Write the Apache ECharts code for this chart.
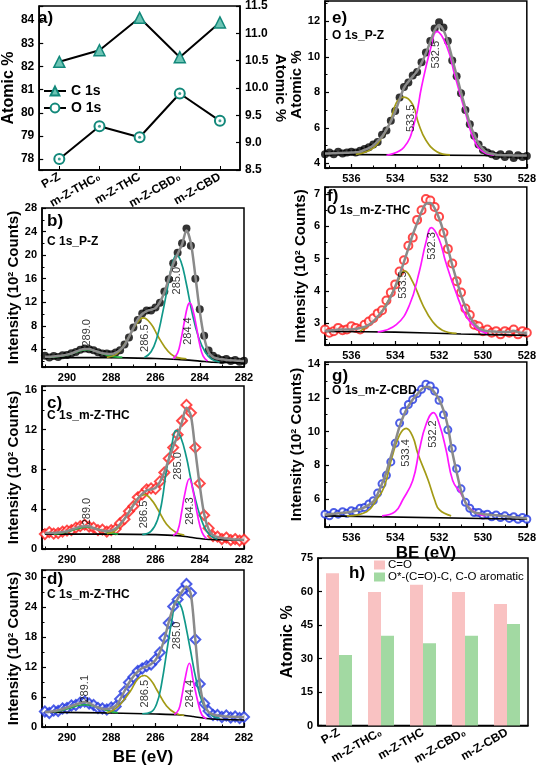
<!DOCTYPE html>
<html><head><meta charset="utf-8">
<script src="https://cdn.jsdelivr.net/npm/echarts@6/dist/echarts.min.js"></script>
<style>html,body{margin:0;padding:0;background:#fff}#c{width:539px;height:767px}</style>
</head><body><div id="c"></div>
<script>
// ---------- Panel a / h : atomic percentages ----------
const samples = ['P-Z', 'm-Z-THC\u2080', 'm-Z-THC', 'm-Z-CBD\u2080', 'm-Z-CBD'];
const c1sAtomic = [82.2, 82.7, 84.1, 82.4, 83.9];
const o1sAtomic = [8.7, 9.3, 9.1, 9.9, 9.4];
const coShare = [68.2, 59.8, 63.0, 59.8, 54.4];
const oStarShare = [31.6, 40.2, 36.8, 40.2, 45.5];

// ---------- C 1s spectra (b, c, d) ----------
const cBE = [291.0, 290.8, 290.6, 290.4, 290.2, 290.0, 289.8, 289.6, 289.4, 289.2,
  289.0, 288.8, 288.6, 288.4, 288.2, 288.0, 287.8, 287.6, 287.4, 287.2,
  287.0, 286.8, 286.6, 286.4, 286.2, 286.0, 285.8, 285.6, 285.4, 285.2,
  285.0, 284.8, 284.6, 284.4, 284.2, 284.0, 283.8, 283.6, 283.4, 283.2,
  283.0, 282.8, 282.6, 282.4, 282.2, 282.0];

const bFit = [2.75, 2.75, 2.8, 2.85, 2.95, 3.1, 3.3, 3.6, 3.9, 4.05,
  4.05, 3.8, 3.55, 3.35, 3.25, 3.2, 3.4, 3.9, 4.7, 6.1,
  7.6, 9.1, 10.0, 10.5, 10.7, 11.0, 12.0, 13.7, 16.0, 18.5,
  20.2, 21.8, 24.2, 22.0, 16.5, 10.5, 6.0, 3.5, 2.7, 2.45,
  2.3, 2.2, 2.15, 2.1, 2.05, 2.0];
const bData = [2.9, 2.6, 2.85, 2.7, 3.0, 3.05, 3.35, 3.55, 3.95, 4.15,
  4.0, 3.85, 3.5, 3.3, 3.3, 3.15, 3.45, 3.85, 4.8, 6.0,
  7.7, 9.0, 10.1, 10.6, 10.6, 11.1, 11.9, 13.8, 15.9, 18.6,
  20.4, 22.0, 24.5, 21.6, 16.0, 10.8, 6.3, 3.8, 2.9, 2.5,
  2.2, 2.35, 2.0, 2.2, 1.9, 2.05];
const bBackground = [[291, 2.6], [288, 2.6], [286, 2.45], [285, 2.3], [284, 2.0], [283.4, 1.8], [282, 1.75]];
const bPeak289 = [[290.8, 2.65], [290.4, 2.8], [290.0, 3.05], [289.6, 3.5], [289.3, 3.85], [289.05, 3.95], [288.8, 3.8], [288.5, 3.4], [288.2, 3.0], [287.9, 2.75], [287.5, 2.62]];
const bPeak2865 = [[288.2, 2.65], [287.8, 3.1], [287.5, 4.3], [287.2, 6.1], [286.9, 8.1], [286.55, 9.35], [286.2, 8.3], [285.9, 6.3], [285.6, 4.5], [285.3, 3.2], [285.0, 2.6], [284.6, 2.4]];
const bPeak285 = [[286.5, 2.6], [286.2, 3.6], [285.95, 5.8], [285.7, 9.8], [285.45, 14.6], [285.25, 18.3], [285.05, 20.0], [284.85, 18.9], [284.62, 15.4], [284.35, 10.3], [284.05, 6.0], [283.75, 3.5], [283.45, 2.3], [283.1, 1.85]];
const bPeak2844 = [[285.2, 2.4], [285.0, 3.4], [284.85, 5.6], [284.7, 8.6], [284.55, 11.3], [284.45, 11.9], [284.3, 10.5], [284.15, 7.8], [284.0, 4.8], [283.85, 2.9], [283.65, 2.0]];
const bLabels = [[289.1, 6.8, '289.0'], [286.47, 5.9, '286.5'], [285.04, 15.65, '285.0'], [284.52, 7.1, '284.4']];

const cFit = [1.6, 1.6, 1.6, 1.65, 1.7, 1.8, 1.95, 2.1, 2.25, 2.3,
  2.3, 2.1, 1.95, 1.85, 1.8, 1.85, 2.05, 2.5, 3.05, 3.7,
  4.4, 5.05, 5.55, 5.9, 6.0, 6.15, 6.75, 7.75, 9.0, 10.3,
  11.4, 12.8, 14.2, 13.4, 9.9, 6.4, 3.5, 2.0, 1.4, 1.2,
  1.1, 1.05, 1.0, 0.95, 0.95, 0.9];
const cData = [1.5, 1.7, 1.55, 1.6, 1.75, 1.85, 1.9, 2.15, 2.3, 2.45,
  2.25, 2.15, 1.9, 1.95, 1.75, 1.9, 2.0, 2.6, 3.0, 3.8,
  4.3, 5.2, 5.5, 6.0, 6.1, 6.05, 6.8, 7.7, 9.1, 10.2,
  11.5, 12.9, 14.5, 13.7, 10.2, 6.6, 3.4, 2.1, 1.3, 1.25,
  1.0, 1.15, 0.9, 1.0, 0.85, 0.95];
const cBackground = [[291, 1.5], [288, 1.5], [286, 1.45], [285, 1.35], [284.5, 1.2], [284, 1.05], [283.5, 0.95], [282, 0.88]];
const cPeak289 = [[290.6, 1.5], [290.2, 1.62], [289.8, 1.85], [289.4, 2.1], [289.1, 2.2], [288.8, 2.1], [288.4, 1.85], [288.0, 1.6], [287.7, 1.5]];
const cPeak2865 = [[288.2, 1.55], [287.85, 1.8], [287.5, 2.7], [287.1, 4.1], [286.8, 5.1], [286.5, 5.47], [286.2, 5.0], [285.9, 4.0], [285.5, 2.5], [285.1, 1.7], [284.7, 1.4]];
const cPeak285 = [[286.6, 1.45], [286.2, 1.8], [285.9, 3.0], [285.7, 4.9], [285.5, 8.0], [285.27, 10.4], [285.07, 11.94], [284.85, 11.2], [284.6, 9.2], [284.4, 7.0], [284.15, 4.6], [283.85, 2.5], [283.55, 1.4], [283.2, 1.0]];
const cPeak2843 = [[285.2, 1.35], [285.0, 1.8], [284.82, 3.7], [284.67, 5.6], [284.47, 7.07], [284.3, 5.8], [284.1, 3.4], [283.9, 1.7], [283.7, 1.05]];
const cLabels = [[289.1, 3.77, '289.0'], [286.5, 3.47, '286.5'], [285.0, 8.35, '285.0'], [284.43, 3.82, '284.3']];

const dFit = [3.0, 3.05, 3.15, 3.35, 3.6, 3.9, 4.2, 4.5, 4.8, 5.0,
  4.8, 4.3, 3.9, 3.65, 3.6, 3.8, 4.2, 5.5, 7.2, 8.8,
  10.1, 11.1, 11.8, 12.1, 12.6, 13.4, 15.0, 17.6, 21.0, 23.9,
  25.6, 27.1, 28.1, 26.5, 17.5, 8.5, 4.5, 3.0, 2.5, 2.3,
  2.2, 2.1, 2.05, 2.0, 2.0, 1.95];
const dData = [3.1, 2.8, 3.3, 3.2, 3.7, 3.8, 4.3, 4.4, 4.9, 5.1,
  4.7, 4.4, 3.8, 3.7, 3.5, 3.9, 4.1, 5.6, 7.1, 8.9,
  10.0, 11.2, 11.7, 12.2, 12.5, 13.5, 14.9, 17.8, 20.8, 24.1,
  25.5, 27.3, 28.6, 26.8, 17.5, 8.6, 4.7, 3.2, 2.4, 2.4,
  2.0, 2.3, 1.9, 2.1, 1.8, 2.0];
const dBackground = [[291, 2.95], [288, 2.8], [286, 2.6], [285, 2.45], [284.3, 2.1], [283.5, 1.6], [282, 1.4]];
const dPeak2891 = [[290.6, 3.0], [290.2, 3.35], [289.8, 3.85], [289.5, 4.3], [289.2, 4.45], [288.9, 4.3], [288.5, 3.75], [288.1, 3.15], [287.7, 2.85]];
const dPeak2865 = [[288.2, 2.85], [287.9, 3.4], [287.58, 4.6], [287.13, 7.2], [286.8, 9.6], [286.5, 10.3], [286.2, 9.3], [285.95, 7.5], [285.5, 4.2], [285.1, 2.75], [284.7, 2.3]];
const dPeak285 = [[286.6, 2.65], [286.2, 3.0], [285.95, 4.6], [285.73, 8.5], [285.45, 16.3], [285.24, 21.9], [285.07, 25.2], [284.9, 24.6], [284.76, 22.9], [284.46, 16.3], [284.15, 9.2], [283.85, 4.6], [283.47, 2.35], [283.1, 1.75]];
const dPeak2844 = [[285.15, 2.5], [284.95, 3.5], [284.82, 5.9], [284.67, 9.5], [284.47, 12.75], [284.29, 9.15], [284.06, 4.6], [283.9, 2.4], [283.7, 1.65]];
const dLabels = [[289.19, 7.65, '289.1'], [286.47, 6.67, '286.5'], [285.04, 18.3, '285.0'], [284.43, 6.67, '284.4']];

// ---------- O 1s spectra (e, f, g) ----------
const oBE = [537.2, 537.0, 536.8, 536.6, 536.4, 536.2, 536.0, 535.8, 535.6, 535.4,
  535.2, 535.0, 534.8, 534.6, 534.4, 534.2, 534.0, 533.8, 533.6, 533.4,
  533.2, 533.0, 532.8, 532.6, 532.4, 532.2, 532.0, 531.8, 531.6, 531.4,
  531.2, 531.0, 530.8, 530.6, 530.4, 530.2, 530.0, 529.8, 529.6, 529.4,
  529.2, 529.0, 528.8, 528.6, 528.4, 528.2, 528.0];

const eFit = [4.55, 4.55, 4.56, 4.57, 4.58, 4.59, 4.6, 4.62, 4.65, 4.75,
  4.85, 5.0, 5.25, 5.5, 5.9, 6.35, 6.9, 7.6, 8.25, 8.6,
  8.9, 9.2, 9.65, 10.2, 10.85, 11.5, 11.8, 11.5, 10.85, 9.9,
  8.96, 8.0, 7.1, 6.25, 5.6, 5.1, 4.8, 4.6, 4.53, 4.48,
  4.46, 4.45, 4.45, 4.44, 4.44, 4.43, 4.43];
const eData = [4.5, 4.6, 4.5, 4.65, 4.55, 4.6, 4.65, 4.6, 4.7, 4.8,
  4.9, 5.05, 5.2, 5.6, 5.85, 6.4, 6.95, 7.7, 8.3, 8.55,
  8.95, 9.15, 9.7, 10.25, 10.9, 11.6, 11.95, 11.65, 10.9, 9.8,
  8.9, 7.95, 7.0, 6.2, 5.55, 5.05, 4.75, 4.6, 4.5, 4.4,
  4.5, 4.35, 4.5, 4.3, 4.45, 4.35, 4.4];
const eBackground = [[537.2, 4.5], [528, 4.42]];
const ePeak5335 = [[535.8, 4.5], [535.2, 4.7], [534.8, 5.1], [534.25, 6.25], [533.95, 7.4], [533.6, 7.73], [533.2, 7.3], [532.94, 6.25], [532.6, 5.3], [532.1, 4.65], [531.5, 4.47]];
const ePeak5325 = [[534.4, 4.45], [533.6, 4.9], [533.1, 6.4], [532.8, 8.3], [532.4, 10.4], [532.1, 11.44], [531.65, 10.6], [531.27, 8.9], [530.8, 6.85], [530.4, 5.3], [530.0, 4.65], [529.5, 4.45]];
const eLabels = [[533.27, 6.53, '533.5'], [532.14, 10.12, '532.5']];

const fFit = [2.75, 2.77, 2.78, 2.8, 2.8, 2.8, 2.8, 2.82, 2.85, 2.88,
  2.95, 3.05, 3.2, 3.36, 3.56, 3.82, 4.13, 4.5, 4.9, 5.32,
  5.74, 6.1, 6.45, 6.7, 6.72, 6.56, 6.25, 5.84, 5.32, 4.8,
  4.33, 3.87, 3.5, 3.2, 2.99, 2.85, 2.78, 2.75, 2.74, 2.73,
  2.72, 2.72, 2.72, 2.76, 2.72, 2.7, 2.7];
const fData = [2.8, 2.7, 2.75, 2.85, 2.78, 2.8, 2.9, 2.85, 2.8, 2.95,
  3.05, 3.15, 3.3, 3.4, 3.7, 3.95, 4.2, 4.6, 4.95, 5.4,
  5.65, 6.2, 6.5, 6.85, 6.8, 6.6, 6.3, 5.8, 5.3, 4.85,
  4.3, 3.95, 3.45, 3.25, 2.95, 2.9, 2.75, 2.8, 2.7, 2.75,
  2.65, 2.75, 2.7, 2.8, 2.65, 2.75, 2.7];
const fBackground = [[537.2, 2.74], [534, 2.72], [531, 2.66], [528, 2.62]];
const fPeak5335 = [[535.6, 2.75], [534.85, 3.15], [534.4, 3.6], [533.95, 4.18], [533.57, 4.62], [533.2, 4.28], [532.74, 3.56], [532.3, 3.05], [531.85, 2.78], [531.2, 2.68]];
const fPeak5323 = [[534.8, 2.72], [533.95, 2.95], [533.35, 3.56], [532.9, 4.6], [532.6, 5.5], [532.35, 5.96], [532.0, 5.6], [531.7, 4.9], [531.24, 3.97], [530.8, 3.25], [530.3, 2.84], [529.8, 2.68]];
const fLabels = [[533.65, 4.18, '533.5'], [532.34, 5.39, '532.3']];

const gFit = [5.05, 5.1, 5.12, 5.15, 5.18, 5.2, 5.25, 5.3, 5.4, 5.5,
  5.65, 5.85, 6.3, 6.9, 7.6, 8.5, 9.4, 10.3, 11.0, 11.5,
  11.9, 12.2, 12.5, 12.65, 12.6, 12.3, 11.9, 11.27, 10.3, 8.8,
  7.6, 6.5, 5.8, 5.4, 5.2, 5.15, 5.1, 5.08, 5.05, 5.03,
  5.0, 4.99, 4.95, 4.92, 4.9, 4.87, 4.85];
const gData = [5.1, 5.0, 5.2, 5.1, 5.25, 5.15, 5.3, 5.25, 5.45, 5.5,
  5.7, 5.9, 6.35, 6.9, 7.4, 8.2, 9.3, 10.5, 11.2, 11.6,
  11.9, 12.25, 12.5, 12.8, 12.7, 12.4, 11.85, 11.0, 10.1, 9.0,
  7.8, 6.6, 5.8, 5.45, 5.2, 5.2, 5.05, 5.1, 4.95, 5.05,
  4.9, 5.0, 4.85, 4.95, 4.8, 4.9, 4.8];
const gBackground = [[537.2, 5.0], [528, 4.8]];
const gPeak5334 = [[536.2, 5.0], [535.3, 5.25], [534.86, 5.94], [534.5, 6.73], [534.14, 8.5], [533.8, 9.8], [533.5, 10.19], [533.2, 9.7], [532.97, 8.7], [532.5, 7.13], [532.2, 5.94], [531.98, 5.35], [531.45, 5.0]];
const gPeak5322 = [[534.6, 5.0], [534.0, 5.25], [533.66, 5.94], [533.2, 7.1], [532.9, 8.9], [532.6, 10.4], [532.26, 11.12], [531.98, 10.4], [531.68, 8.9], [531.38, 7.1], [531.0, 6.3], [530.7, 5.6], [530.3, 5.15], [529.9, 5.0]];
const gLabels = [[533.5, 8.73, '533.4'], [532.26, 9.85, '532.2']];

// ---------- build ----------
const FONT = '"Liberation Sans", Arial, sans-serif';
const zip = (xs, ys) => xs.map((x, i) => [x, ys[i]]);
const tickFmt = (iv, dec) => v => { const r = v / iv; return Math.abs(r - Math.round(r)) < 1e-6 ? v.toFixed(dec) : ''; };

function vAxis(o) {
  return {
    type: 'value', gridIndex: o.grid, min: o.min, max: o.max, inverse: !!o.inverse,
    minInterval: o.iv, maxInterval: o.iv, position: o.position,
    axisLine: { show: true, onZero: false, lineStyle: { color: '#000', width: 1.5 } },
    axisTick: { show: true, inside: true, length: 4, lineStyle: { color: '#000', width: 1.2 } },
    minorTick: { show: o.minor !== false, splitNumber: 2, length: 2.5, lineStyle: { color: '#000', width: 1 } },
    splitLine: { show: false },
    axisLabel: { color: '#000', fontWeight: 'bold', fontSize: o.fs || 11, fontFamily: FONT, margin: o.margin || 5, formatter: tickFmt(o.iv, o.dec || 0) },
    name: o.name || '', nameLocation: 'middle', nameGap: o.nameGap || 20, nameRotate: o.nameRotate,
    nameTextStyle: { color: '#000', fontWeight: 'bold', fontSize: o.nfs || 15, fontFamily: FONT }
  };
}
function cAxis(grid) {
  return {
    type: 'category', gridIndex: grid, data: samples, boundaryGap: true,
    axisLine: { show: true, lineStyle: { color: '#000', width: 1.5 } },
    axisTick: { show: true, inside: true, alignWithLabel: true, length: 4, lineStyle: { color: '#000' } },
    axisLabel: { rotate: 30, color: '#000', fontWeight: 'bold', fontSize: 12, fontFamily: FONT, margin: 6, interval: 0 }
  };
}

const grids = [
  { left: 33, top: 5, width: 207, height: 165 },   // a
  { left: 42, top: 208, width: 202, height: 159 }, // b
  { left: 42, top: 386, width: 202, height: 163 }, // c
  { left: 42, top: 570, width: 202, height: 160 }, // d
  { left: 325, top: 1, width: 203, height: 167 },  // e
  { left: 325, top: 187, width: 203, height: 158 },// f
  { left: 325, top: 362, width: 203, height: 165 },// g
  { left: 318, top: 558, width: 210, height: 170 } // h
].map(g => Object.assign({ show: true, borderColor: '#000', borderWidth: 1.5, backgroundColor: 'transparent', containLabel: false }, g));

const INT = 'Intensity (10\u00B2 Counts)';
const xAxes = [
  cAxis(0),
  vAxis({ grid: 1, min: 282, max: 291.13, iv: 2, inverse: true }),
  vAxis({ grid: 2, min: 282, max: 291.13, iv: 2, inverse: true }),
  vAxis({ grid: 3, min: 282, max: 291.13, iv: 2, inverse: true, name: 'BE (eV)', nameGap: 22, nfs: 17 }),
  vAxis({ grid: 4, min: 528, max: 537.2, iv: 2, inverse: true }),
  vAxis({ grid: 5, min: 528, max: 537.2, iv: 2, inverse: true }),
  vAxis({ grid: 6, min: 528, max: 537.2, iv: 2, inverse: true, name: 'BE (eV)', nameGap: 18, nfs: 17 }),
  cAxis(7)
];
const yAxes = [
  vAxis({ grid: 0, min: 77.53, max: 84.61, iv: 1, fs: 12, name: 'Atomic %', nameGap: 18, nfs: 16, minor: false }),
  vAxis({ grid: 0, min: 8.5, max: 11.5, iv: 0.5, dec: 1, fs: 12, position: 'right', name: 'Atomic %', nameGap: 32, nfs: 15, nameRotate: -90, minor: false }),
  vAxis({ grid: 1, min: 1.0, max: 28, iv: 4, name: INT, nameGap: 18 }),
  vAxis({ grid: 2, min: 0, max: 16.4, iv: 4, name: INT, nameGap: 18 }),
  vAxis({ grid: 3, min: 0, max: 31.4, iv: 6, name: INT, nameGap: 18 }),
  vAxis({ grid: 4, min: 3.73, max: 13.15, iv: 2, name: 'Atomic %', nameGap: 17, nfs: 15 }),
  vAxis({ grid: 5, min: 2.32, max: 7.22, iv: 1, name: INT, nameGap: 17 }),
  vAxis({ grid: 6, min: 4.34, max: 14.12, iv: 2, name: INT, nameGap: 17 }),
  vAxis({ grid: 7, min: 0, max: 75, iv: 15, name: 'Atomic %', nameGap: 22, nfs: 16, minor: false })
];

const COL = { green: '#1fb040', olive: '#a39b16', teal: '#119889', magenta: '#ff17ff', fit: '#8a8a8a' };

function spectrum(id, ax, BE, fit, data, bg, comps, labels, sym) {
  const out = [];
  out.push({ name: id + '-data', type: 'scatter', xAxisIndex: ax, yAxisIndex: ax + 1, data: zip(BE, data),
    symbol: sym.symbol, symbolSize: sym.size, itemStyle: sym.style, z: 2, silent: true });
  out.push({ name: id + '-bg', type: 'line', xAxisIndex: ax, yAxisIndex: ax + 1, data: bg, symbol: 'none', smooth: 0.3,
    lineStyle: { color: '#000', width: 1.6 }, z: 3, silent: true });
  comps.forEach((c, i) => out.push({ name: id + '-comp' + i, type: 'line', xAxisIndex: ax, yAxisIndex: ax + 1, data: c[0],
    symbol: 'none', smooth: 0.45, lineStyle: { color: c[1], width: 1.7 }, z: 4, silent: true }));
  out.push({ name: id + '-fit', type: 'line', xAxisIndex: ax, yAxisIndex: ax + 1, data: zip(BE, fit), symbol: 'none', smooth: 0.3,
    lineStyle: { color: COL.fit, width: 2.5 }, z: 5, silent: true });
  out.push({ name: id + '-lbl', type: 'scatter', xAxisIndex: ax, yAxisIndex: ax + 1, data: labels, symbolSize: 0, z: 6, silent: true,
    label: { show: true, position: 'inside', rotate: 90, formatter: p => p.value[2], fontSize: 11, color: '#000', fontFamily: FONT } });
  return out;
}

const blackDot = { symbol: 'circle', size: 8, style: { color: '#000' } };
const series = [
  { name: 'C 1s', type: 'line', xAxisIndex: 0, yAxisIndex: 0, data: c1sAtomic, symbol: 'triangle', symbolSize: 11,
    lineStyle: { color: '#000', width: 2 }, itemStyle: { color: '#6cc4b4', borderColor: '#12887a', borderWidth: 1.5 }, z: 3 },
  { name: 'O 1s', type: 'line', xAxisIndex: 0, yAxisIndex: 1, data: o1sAtomic, symbol: 'emptyCircle', symbolSize: 10,
    lineStyle: { color: '#000', width: 2 }, itemStyle: { color: '#12887a', borderWidth: 2 }, z: 3 },
  { name: 'O 1s centre', type: 'scatter', xAxisIndex: 0, yAxisIndex: 1, data: o1sAtomic, symbolSize: 3, itemStyle: { color: '#12887a' }, z: 4, silent: true },
  ...spectrum('b', 1, cBE, bFit, bData, bBackground,
    [[bPeak289, COL.green], [bPeak2865, COL.olive], [bPeak285, COL.teal], [bPeak2844, COL.magenta]], bLabels, blackDot),
  ...spectrum('c', 2, cBE, cFit, cData, cBackground,
    [[cPeak289, COL.green], [cPeak2865, COL.olive], [cPeak285, COL.teal], [cPeak2843, COL.magenta]], cLabels,
    { symbol: 'emptyDiamond', size: 10, style: { color: '#ff1a1a', borderWidth: 2 } }),
  ...spectrum('d', 3, cBE, dFit, dData, dBackground,
    [[dPeak2891, COL.green], [dPeak2865, COL.olive], [dPeak285, COL.teal], [dPeak2844, COL.magenta]], dLabels,
    { symbol: 'emptyDiamond', size: 10, style: { color: '#1f35e0', borderWidth: 2 } }),
  ...spectrum('e', 4, oBE, eFit, eData, eBackground, [[ePeak5335, COL.olive], [ePeak5325, COL.magenta]], eLabels, blackDot),
  ...spectrum('f', 5, oBE, fFit, fData, fBackground, [[fPeak5335, COL.olive], [fPeak5323, COL.magenta]], fLabels,
    { symbol: 'emptyCircle', size: 8, style: { color: '#ff1a1a', borderWidth: 2 } }),
  ...spectrum('g', 6, oBE, gFit, gData, gBackground, [[gPeak5334, COL.olive], [gPeak5322, COL.magenta]], gLabels,
    { symbol: 'emptyCircle', size: 7, style: { color: '#1f35e0', borderWidth: 1.6 } }),
  { name: 'C=O', type: 'bar', xAxisIndex: 7, yAxisIndex: 8, data: coShare, barWidth: 13, barGap: '0%', itemStyle: { color: '#f9c2c2' } },
  { name: 'O*-(C=O)-C, C-O aromatic', type: 'bar', xAxisIndex: 7, yAxisIndex: 8, data: oStarShare, barWidth: 13, barGap: '0%', itemStyle: { color: '#a2d9a2' } }
];

const T = (text, left, top, size) => ({ type: 'text', left, top, z: 100,
  style: { text, fill: '#000', font: 'bold ' + size + 'px ' + FONT } });

const option = {
  animation: false,
  backgroundColor: '#fff',
  grid: grids,
  xAxis: xAxes,
  yAxis: yAxes,
  legend: [
    { data: ['C 1s', 'O 1s'], orient: 'vertical', left: 38, top: 79, itemGap: 3, itemWidth: 22, itemHeight: 11,
      textStyle: { color: '#000', fontWeight: 'bold', fontSize: 14, fontFamily: FONT }, selectedMode: false },
    { data: ['C=O', 'O*-(C=O)-C, C-O aromatic'], orient: 'vertical', left: 372, top: 557, itemGap: 0, itemWidth: 11, itemHeight: 9,
      padding: [2, 2, 2, 2],
      icon: 'rect', textStyle: { color: '#000', fontSize: 11.5, fontFamily: FONT, padding: [0, 0, 0, -2] }, selectedMode: false }
  ],
  graphic: [
    T('a)', 38, 10, 17),
    T('b)', 47, 213, 17), T('C 1s_P-Z', 47, 236, 12),
    T('c)', 47, 395, 17), T('C 1s_m-Z-THC', 47, 410, 12),
    T('d)', 47, 571, 17), T('C 1s_m-Z-THC', 47, 589, 12),
    T('e)', 332, 10, 17), T('O 1s_P-Z', 332, 30, 12),
    T('f)', 327, 188, 17), T('O 1s_m-Z-THC', 327, 205, 12),
    T('g)', 332, 368, 17), T('O 1s_m-Z-CBD', 332, 385, 12),
    T('h)', 349, 565, 17)
  ],
  series
};
const chart = echarts.init(document.getElementById('c'), null, { renderer: 'canvas' });
chart.setOption(option);
</script></body></html>
